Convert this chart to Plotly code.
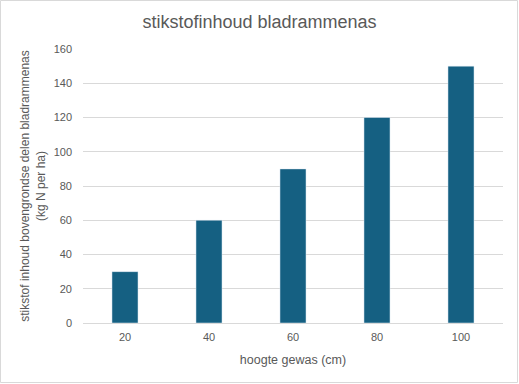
import plotly.graph_objects as go

categories = ["20", "40", "60", "80", "100"]
values = [30, 60, 90, 120, 150]
y_ticks = [0, 20, 40, 60, 80, 100, 120, 140, 160]

W, H = 519, 384
L, R, T, B = 83, 16, 49, 61
pw, ph = W - L - R, H - T - B

def px(x):
    return (x - L) / pw

def py(y):
    return (H - B - y) / ph

fig = go.Figure(go.Bar(x=categories, y=values, marker_color="#156082", width=0.31))

fig.update_layout(
    width=W, height=H,
    margin=dict(l=L, r=R, t=T, b=B),
    paper_bgcolor="white", plot_bgcolor="white",
    font=dict(family="Liberation Sans, Arial, sans-serif", size=11, color="#595959"),
    title=dict(text="stikstofinhoud bladrammenas", x=0.5, xanchor="center",
               y=1 - 22 / H, yanchor="middle", font=dict(size=18, color="#595959")),
    showlegend=False,
    bargap=0.69,
)
fig.update_xaxes(type="category", showgrid=False, showline=True, linecolor="#d9d9d9",
                 ticks="", tickfont=dict(size=11), ticklabelstandoff=4,
                 title=dict(text="hoogte gewas (cm)", font=dict(size=12.5), standoff=13))
fig.update_yaxes(range=[0, 160], tickvals=y_ticks, showgrid=True, gridcolor="#d9d9d9",
                 zeroline=False, showline=False, ticks="", ticklabelstandoff=10,
                 tickfont=dict(size=11),
                 title=dict(text="stikstof inhoud bovengrondse delen bladrammenas<br>(kg N per ha)",
                            font=dict(size=12), standoff=5))
fig.add_shape(type="rect", xref="paper", yref="paper",
              x0=px(0.5), x1=px(517.5), y0=py(382.5), y1=py(0.5),
              line=dict(color="#d9d9d9", width=1), fillcolor="rgba(0,0,0,0)", layer="below")

fig.write_html("out.html", config={"displayModeBar": False},
               post_script="document.body.style.margin='0';document.body.style.overflow='hidden';")
